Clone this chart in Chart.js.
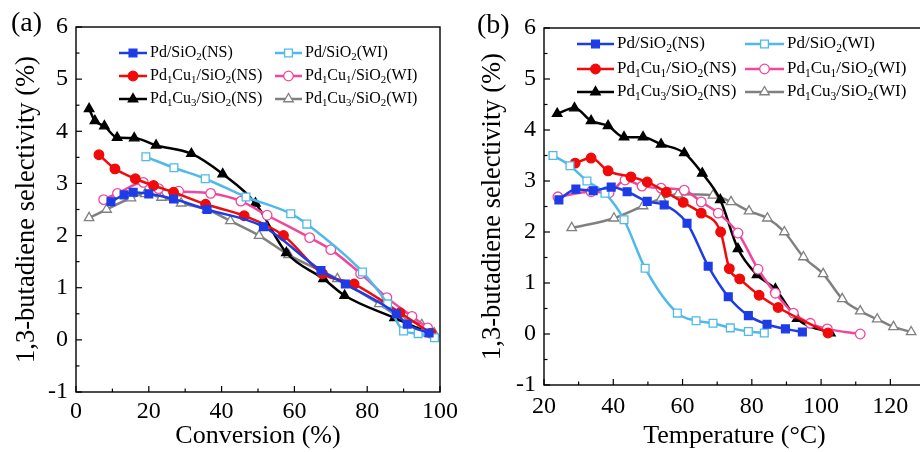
<!DOCTYPE html>
<html>
<head>
<meta charset="utf-8">
<script src="https://cdn.jsdelivr.net/npm/chart.js@4.4.1/dist/chart.umd.min.js"></script>
<style>
html, body { margin: 0; padding: 0; background: #fff; overflow: hidden; width: 920px; height: 452px; }
#wa { position: absolute; left: 0; top: 0; width: 460px; height: 452px; }
#wb { position: absolute; left: 460px; top: 0; width: 480px; height: 452px; }
</style>
</head>
<body>
<div id="wa"><canvas id="chartA" width="460" height="452"></canvas></div>
<div id="wb"><canvas id="chartB" width="480" height="452"></canvas></div>
<script>
// series labels
var labels = ['Pd/SiO₂(NS)', 'Pd/SiO₂(WI)', 'Pd₁Cu₁/SiO₂(NS)', 'Pd₁Cu₁/SiO₂(WI)', 'Pd₁Cu₃/SiO₂(NS)', 'Pd₁Cu₃/SiO₂(WI)'];

// (a) selectivity vs conversion
var convPdNS   = [9.6, 13.2, 15.7, 20, 26.8, 36, 51.5, 67.3, 74, 88, 91, 97];
var selPdNS    = [2.65, 2.78, 2.83, 2.8, 2.7, 2.5, 2.17, 1.33, 1.07, 0.5, 0.3, 0.13];
var convPdWI   = [19.2, 26.9, 35.5, 46.7, 59, 63.4, 78.7, 85.6, 90, 94, 98.5];
var selPdWI    = [3.51, 3.3, 3.09, 2.74, 2.42, 2.22, 1.3, 0.69, 0.17, 0.12, 0.04];
var convCu1NS  = [6.3, 10.7, 16.3, 21.3, 26.8, 35.6, 46.2, 57, 67.7, 76.4, 89, 97.5];
var selCu1NS   = [3.55, 3.28, 3.09, 2.96, 2.83, 2.6, 2.38, 2.0, 1.27, 1.07, 0.52, 0.13];
var convCu1WI  = [7.6, 11.4, 18.5, 22.7, 28.2, 37, 45.3, 52.5, 64.2, 70, 78.2, 85.4, 92.3, 96.6];
var selCu1WI   = [2.69, 2.81, 3.02, 2.9, 2.85, 2.81, 2.66, 2.39, 1.96, 1.73, 1.27, 0.81, 0.45, 0.23];
var convCu3NS  = [3.6, 5.2, 7.8, 11.3, 16, 22, 31.7, 40.3, 49.3, 57.8, 68, 73.8, 87.5, 97];
var selCu3NS   = [4.43, 4.2, 4.1, 3.88, 3.87, 3.73, 3.57, 3.18, 2.62, 1.67, 1.17, 0.85, 0.42, 0.13];
var convCu3WI  = [3.6, 8.4, 15.1, 19, 23.5, 28.9, 36, 42.4, 50.3, 58.4, 71.8, 83.3, 89.3, 95, 98.4];
var selCu3WI   = [2.34, 2.5, 2.72, 2.8, 2.73, 2.62, 2.5, 2.28, 2.0, 1.63, 1.17, 0.69, 0.42, 0.29, 0.13];

// (b) selectivity vs temperature
var tempPdNS   = [24.3, 29.2, 34.2, 39.4, 44, 49.8, 54.7, 61.3, 67.4, 73.2, 79, 84.4, 89.7, 94.6];
var tselPdNS   = [2.63, 2.84, 2.81, 2.88, 2.79, 2.6, 2.53, 2.17, 1.33, 0.73, 0.36, 0.19, 0.1, 0.04];
var tempPdWI   = [22.6, 27.5, 32.4, 37.6, 43.1, 49.2, 58.5, 63.9, 68.8, 73.8, 79, 83.6];
var tselPdWI   = [3.5, 3.3, 3.0, 2.76, 2.24, 1.29, 0.41, 0.26, 0.21, 0.12, 0.05, 0.02];
var tempCu1NS  = [29, 33.6, 38.5, 45.1, 49.8, 55.3, 60.2, 65.4, 71, 73.5, 76.5, 82.1, 87.6, 102];
var tselCu1NS  = [3.35, 3.45, 3.2, 3.08, 2.98, 2.78, 2.58, 2.37, 2.0, 1.28, 1.08, 0.76, 0.52, 0.02];
var tempCu1WI  = [24, 33.6, 38.8, 43.4, 48.3, 53.8, 60.5, 65.4, 70.3, 76, 81.8, 86.8, 92, 96.9, 101.8, 111.3];
var tselCu1WI  = [2.69, 2.79, 2.77, 3.02, 2.9, 2.86, 2.82, 2.59, 2.37, 1.98, 1.27, 0.8, 0.41, 0.21, 0.1, 0.0];
var tempCu3NS  = [23.8, 28.8, 33.6, 38.5, 43.1, 48.6, 53.8, 60.5, 65.7, 70.9, 76, 81.5, 86.8, 93.1, 102.7];
var tselCu3NS  = [4.32, 4.43, 4.18, 4.08, 3.86, 3.86, 3.72, 3.55, 3.15, 2.63, 1.67, 1.16, 0.88, 0.3, 0.02];
var tempCu3WI  = [28, 40.2, 48.6, 53.8, 58.7, 68.8, 74, 79.2, 84.5, 89.4, 94.9, 100.6, 106.1, 111.3, 116.2, 120.9, 126];
var tselCu3WI  = [2.08, 2.27, 2.51, 2.66, 2.74, 2.72, 2.59, 2.41, 2.27, 2.0, 1.51, 1.18, 0.69, 0.45, 0.29, 0.14, 0.04];

var xTicksA = [0, 20, 40, 60, 80, 100];
var xTicksB = [20, 40, 60, 80, 100, 120];
var yTicks = [-1, 0, 1, 2, 3, 4, 5, 6];

var serif = '"Liberation Serif", "Times New Roman", serif';

var styles = [
  { color: '#1e3ce6', point: 'rect', fill: true, r: 5.5 },
  { color: '#50b9eb', point: 'rect', fill: false, r: 5.5 },
  { color: '#f00a0a', point: 'circle', fill: true, r: 4.8 },
  { color: '#f0469b', point: 'circle', fill: false, r: 4.8 },
  { color: '#000000', point: 'triangle', fill: true, r: 5.5 },
  { color: '#808080', point: 'triangle', fill: false, r: 5.5 }
];

function pts(xs, ys) {
  return xs.map(function (v, i) { return { x: v, y: ys[i] }; });
}

function makeSets(list) {
  return list.map(function (d, i) {
    var s = styles[i];
    return {
      label: labels[i],
      data: pts(d[0], d[1]),
      borderColor: s.color,
      backgroundColor: s.fill ? s.color : '#ffffff',
      pointStyle: s.point,
      pointRadius: s.r,
      pointBorderWidth: 1.3,
      pointBorderColor: s.color,
      pointBackgroundColor: s.fill ? s.color : '#ffffff',
      borderWidth: 2.5,
      cubicInterpolationMode: 'monotone',
      fill: false
    };
  });
}

var subMap = { '₀': '0', '₁': '1', '₂': '2', '₃': '3' };
function drawRich(ctx, text, x, y, size) {
  ctx.textBaseline = 'middle';
  ctx.textAlign = 'left';
  for (var i = 0; i < text.length; i++) {
    var ch = text[i];
    if (subMap[ch]) {
      ctx.font = (size * 0.68) + 'px ' + serif;
      ctx.fillText(subMap[ch], x, y + size * 0.28);
      x += ctx.measureText(subMap[ch]).width;
    } else {
      ctx.font = size + 'px ' + serif;
      ctx.fillText(ch, x, y);
      x += ctx.measureText(ch).width;
    }
  }
}

// inside legend, frame, inward ticks, panel letter
var decor = {
  id: 'decor',
  afterDraw: function (chart, args, o) {
    var ctx = chart.ctx, a = chart.chartArea, xs = chart.scales.x, ys = chart.scales.y;
    ctx.save();
    ctx.strokeStyle = '#000';
    ctx.lineWidth = 1.4;
    ctx.strokeRect(a.left, a.top, a.right - a.left, a.bottom - a.top);
    ctx.lineWidth = 1.2;
    var v, p, maj;
    for (v = xs.min; v <= xs.max + 1e-9; v += o.xMinor) {
      p = xs.getPixelForValue(v);
      maj = Math.abs(v / o.xMajor - Math.round(v / o.xMajor)) < 1e-6;
      ctx.beginPath();
      ctx.moveTo(p, a.bottom);
      ctx.lineTo(p, a.bottom - (maj ? 6 : 3.5));
      ctx.stroke();
    }
    for (v = ys.min; v <= ys.max + 1e-9; v += 0.5) {
      p = ys.getPixelForValue(v);
      maj = Math.abs(v - Math.round(v)) < 1e-6;
      ctx.beginPath();
      ctx.moveTo(a.left, p);
      ctx.lineTo(a.left + (maj ? 6 : 3.5), p);
      ctx.stroke();
    }
    // legend
    chart.data.datasets.forEach(function (ds, i) {
      var col = i % 2, row = Math.floor(i / 2);
      var x1 = o.legX[col][0], x2 = o.legX[col][1], ly = o.legY[row];
      ctx.strokeStyle = ds.borderColor;
      ctx.lineWidth = 2.5;
      ctx.beginPath();
      ctx.moveTo(x1, ly);
      ctx.lineTo(x2, ly);
      ctx.stroke();
      ctx.lineWidth = ds.pointBorderWidth;
      ctx.fillStyle = ds.pointBackgroundColor;
      Chart.helpers.drawPoint(ctx, { pointStyle: ds.pointStyle, radius: ds.pointRadius, borderWidth: ds.pointBorderWidth, rotation: 0 }, (x1 + x2) / 2, ly);
      ctx.fillStyle = '#000';
      drawRich(ctx, ds.label, x2 + 3, ly, o.legSize);
    });
    ctx.fillStyle = '#000';
    ctx.font = '28px ' + serif;
    ctx.textBaseline = 'middle';
    ctx.textAlign = 'left';
    ctx.fillText(o.letter, o.letterX, o.letterY);
    ctx.restore();
  }
};

function axisOpts(min, max, ticksList, title, tPad, yTitlePad, xHeight, yWidth) {
  return {
    x: {
      type: 'linear', min: min, max: max,
      afterFit: function (s) { s.height = xHeight; s.paddingLeft = 0; s.paddingRight = 0; },
      grid: { display: false, drawTicks: false },
      border: { display: false },
      afterBuildTicks: function (s) { s.ticks = ticksList.map(function (v) { return { value: v }; }); },
      ticks: { color: '#000', font: { family: serif, size: 24 }, padding: tPad, maxRotation: 0 },
      title: { display: true, text: title, color: '#000', font: { family: serif, size: 26 }, padding: { top: 0, bottom: 0 } }
    },
    y: {
      type: 'linear', min: -1, max: 6,
      afterFit: function (s) { s.width = yWidth; s.paddingTop = 0; s.paddingBottom = 0; },
      grid: { display: false, drawTicks: false },
      border: { display: false },
      afterBuildTicks: function (s) { s.ticks = yTicks.map(function (v) { return { value: v }; }); },
      ticks: { color: '#000', font: { family: serif, size: 24 }, padding: 8 },
      title: { display: true, text: '1,3-butadiene selectivity (%)', color: '#000', font: { family: serif, size: 26.5 }, padding: { top: yTitlePad, bottom: 0 } }
    }
  };
}

new Chart(document.getElementById('chartA').getContext('2d'), {
  type: 'line',
  data: {
    datasets: makeSets([
      [convPdNS, selPdNS], [convPdWI, selPdWI], [convCu1NS, selCu1NS],
      [convCu1WI, selCu1WI], [convCu3NS, selCu3NS], [convCu3WI, selCu3WI]
    ])
  },
  options: {
    responsive: false,
    animation: false,
    layout: { padding: { top: 27, right: 20, left: 0, bottom: 0 } },
    scales: axisOpts(0, 100, xTicksA, 'Conversion (%)', 5, 11, 60, 76),
    plugins: {
      legend: { display: false },
      tooltip: { enabled: false },
      decor: {
        xMinor: 10, xMajor: 20,
        legX: [[119, 147], [275, 302]], legY: [53, 76, 99], legSize: 16,
        letter: '(a)', letterX: 11, letterY: 24
      }
    }
  },
  plugins: [decor]
});

new Chart(document.getElementById('chartB').getContext('2d'), {
  type: 'line',
  data: {
    datasets: makeSets([
      [tempPdNS, tselPdNS], [tempPdWI, tselPdWI], [tempCu1NS, tselCu1NS],
      [tempCu1WI, tselCu1WI], [tempCu3NS, tselCu3NS], [tempCu3WI, tselCu3WI]
    ])
  },
  options: {
    responsive: false,
    animation: false,
    layout: { padding: { top: 28, right: 15, left: 0, bottom: 0 } },
    scales: axisOpts(20, 130, xTicksB, 'Temperature (°C)', 7.5, 17, 67, 84),
    plugins: {
      legend: { display: false },
      tooltip: { enabled: false },
      decor: {
        xMinor: 10, xMajor: 20,
        legX: [[117, 154], [285, 324]], legY: [44, 69, 92], legSize: 17,
        letter: '(b)', letterX: 17, letterY: 26
      }
    }
  },
  plugins: [decor]
});
</script>
</body>
</html>
